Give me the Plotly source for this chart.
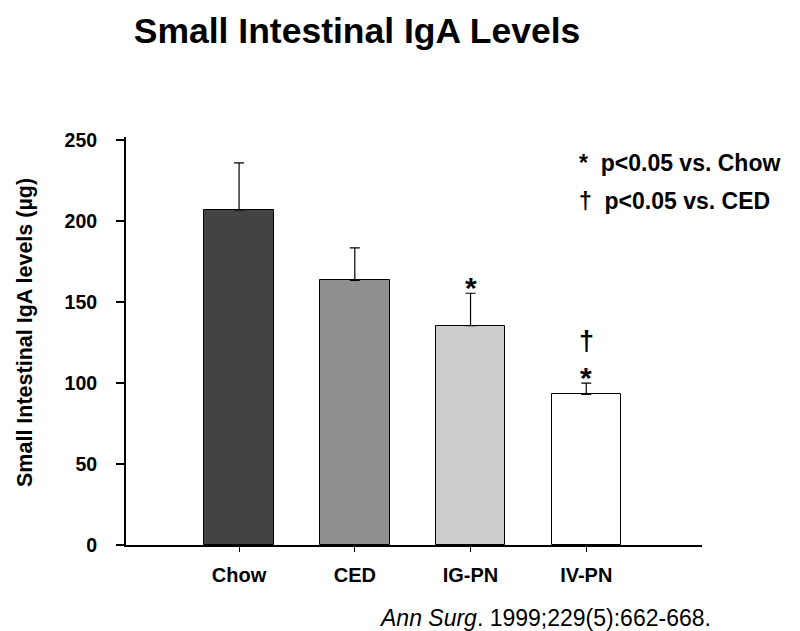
import plotly.graph_objects as go

categories = ["Chow", "CED", "IG-PN", "IV-PN"]
means = [207, 163.5, 135.5, 93]
sem_upper = [29, 20, 20, 7]
bar_colors = ["#434343", "#8f8f8f", "#cccccc", "#ffffff"]
star_marks = [False, False, True, True]
dagger_marks = [False, False, False, True]
y_ticks = [0, 50, 100, 150, 200, 250]

FONT = "Liberation Sans, Arial, sans-serif"
x_pos = list(range(len(categories)))

fig = go.Figure()
fig.add_trace(go.Bar(
    x=x_pos, y=means, width=0.6,
    marker=dict(color=bar_colors, line=dict(color="black", width=1)),
    error_y=dict(type="data", symmetric=False, array=sem_upper,
                 arrayminus=[0] * len(means), color="black", thickness=1.2, width=5),
    showlegend=False,
))

# significance markers above error bars
for xi, m, e, st, dg in zip(x_pos, means, sem_upper, star_marks, dagger_marks):
    if st:
        fig.add_annotation(x=xi, y=m + e, xref="x", yref="y", text="<b>*</b>",
                           showarrow=False, yanchor="middle", yshift=6,
                           font=dict(family=FONT, size=30, color="black"))
    if dg:
        fig.add_annotation(x=xi, y=m + e, xref="x", yref="y", text="<b>†</b>",
                           showarrow=False, yanchor="middle", yshift=42,
                           font=dict(family=FONT, size=27, color="black"))

fig.add_annotation(x=(569 - 118) / 576, y=(537 - 155) / 408, xref="paper", yref="paper",
                   text="<b>*&nbsp;&nbsp;p<0.05 vs. Chow</b>", showarrow=False, xanchor="left",
                   yanchor="middle", font=dict(family=FONT, size=23, color="black"))
fig.add_annotation(x=(569 - 118) / 576, y=(537 - 193) / 408, xref="paper", yref="paper",
                   text="<b>†&nbsp;&nbsp;p<0.05 vs. CED</b>", showarrow=False, xanchor="left",
                   yanchor="middle", font=dict(family=FONT, size=23, color="black"))
fig.add_annotation(x=(705 - 118) / 576, y=(537 - 610) / 408, xref="paper", yref="paper",
                   text="<i>Ann Surg</i>. 1999;229(5):662-668.", showarrow=False,
                   xanchor="right", yanchor="middle",
                   font=dict(family=FONT, size=23, color="black"))
fig.add_annotation(x=(17 - 118) / 576, y=(537 - 325) / 408, xref="paper", yref="paper",
                   text="<b>Small Intestinal IgA levels (µg)</b>", showarrow=False,
                   textangle=-90, xanchor="center", yanchor="middle",
                   font=dict(family=FONT, size=21.5, color="black"))

fig.update_layout(
    width=800, height=631,
    margin=dict(l=118, r=106, t=129, b=94),
    paper_bgcolor="white", plot_bgcolor="white",
    title=dict(text="<b>Small Intestinal IgA Levels</b>", x=349 / 800, xanchor="center",
               y=1 - 23 / 631, yanchor="middle",
               font=dict(family=FONT, size=35.5, color="black")),
    font=dict(family=FONT, color="black"),
    bargap=0,
)
fig.update_xaxes(
    range=[-0.977, 4.0], tickvals=x_pos, ticktext=[f"<b>{c}</b>" for c in categories],
    showline=True, linecolor="black", linewidth=2, ticks="outside", ticklen=5,
    tickcolor="black", tickwidth=1, showgrid=False, zeroline=False,
    tickfont=dict(family=FONT, size=20, color="black"), ticklabelstandoff=6,
)
fig.update_yaxes(
    range=[0, 252], tickvals=y_ticks, ticktext=[f"<b>{t}</b>" for t in y_ticks],
    showline=True, linecolor="black", linewidth=2, ticks="outside", ticklen=8,
    tickcolor="black", tickwidth=1.5, showgrid=False, zeroline=False,
    tickfont=dict(family=FONT, size=19.5, color="black"), ticklabelstandoff=15,
)

fig.write_html("out.html")
